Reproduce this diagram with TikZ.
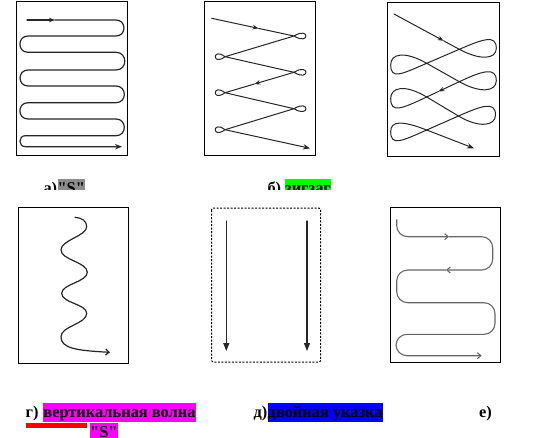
\documentclass[tikz,border=0pt]{standalone}
\usepackage{fontspec}
\setmainfont{Liberation Serif}[Ligatures=TeXOff]
\usetikzlibrary{arrows.meta,calc}
\definecolor{hlgray}{RGB}{140,140,140}
\definecolor{hlgreen}{RGB}{0,255,0}
\definecolor{hlmag}{RGB}{255,0,255}
\definecolor{hlblue}{RGB}{0,0,255}
\definecolor{hlred}{RGB}{255,0,0}
\begin{document}
\begin{tikzpicture}[x=1pt,y=-1pt,
  frame/.style={draw=black,line width=1pt},
  fig/.style={draw=black!85,line width=1.2pt,line cap=round,line join=round},
  thinfig/.style={draw=black!85,line width=1pt,line cap=round,line join=round},
  efig/.style={draw=black!60,line width=1.1pt,rounded corners=11pt},
  captxt/.style={font=\bfseries\fontsize{16.4}{19}\selectfont,inner sep=0pt,text height=14.6pt,text depth=3.6pt,anchor=base west},
  hl/.style={captxt,fill=#1},
  tipS/.style={-{Stealth[length=6pt,width=4.5pt]}},
  tipE/.style={-{Stealth[length=7pt,width=5.5pt]}},
  tipB/.style={-{Straight Barb[length=3.5pt,width=6pt]}},
  tipT/.style={-{Triangle[length=8pt,width=6pt]}},
]
\clip (0,0) rectangle (548,437);

% frames
\draw[frame] (16,1.3) rectangle (127.3,155.3);
\draw[frame] (204.3,1.3) rectangle (315.7,155.3);
\draw[frame] (387.3,2.3) rectangle (499.3,156.3);
\draw[frame] (18.3,207.3) rectangle (128.3,363.3);
\draw[frame,dash pattern=on 2pt off 1.5pt,rounded corners=2pt] (211.5,208) rectangle (320.7,362);
\draw[frame] (390.7,207.3) rectangle (500,362.3);

% a) S
\coordinate (aS) at (27,20);
\coordinate (aM) at (55,20);
\coordinate (aE) at (122,146.7);
\draw[fig,tipS] (aS) -- (aM);
\draw[fig,tipE] (aM) -- (116,20) to[out=0,in=0,looseness=1.7] (116,36)
  -- (28,36) to[out=180,in=180,looseness=1.7] (28,52.3)
  -- (116,52.3) to[out=0,in=0,looseness=1.7] (116,70)
  -- (28,70) to[out=180,in=180,looseness=1.7] (28,86)
  -- (116,86) to[out=0,in=0,looseness=1.7] (116,102.7)
  -- (28,102.7) to[out=180,in=180,looseness=1.7] (28,119)
  -- (116,119) to[out=0,in=0,looseness=1.7] (116,135.7)
  -- (25.4,135.7) to[out=180,in=180,looseness=1.7] (25.4,146.7)
  -- (aE);

% b) zigzag
\coordinate (bS) at (211.7,18.3);
\coordinate (bR1) at (294,36);
\coordinate (bL1) at (225,56.7);
\coordinate (bR2) at (294,72.3);
\coordinate (bL2) at (225,92.7);
\coordinate (bR3) at (294,108.7);
\coordinate (bL3) at (225,129.7);
\coordinate (bE) at (310,148.3);
\coordinate (bM1) at ($(bS)!0.57!(bR1)$);
\coordinate (bM2) at ($(bR2)!0.575!(bL2)$);
\draw[thinfig,tipS] (bS) -- (bM1);
\draw[thinfig] (bM1) -- (bR1) -- (bL1) -- (bR2);
\draw[thinfig,tipS] (bR2) -- (bM2);
\draw[thinfig] (bM2) -- (bL2) -- (bR3) -- (bL3);
\draw[thinfig,tipE] (bL3) -- (bE);
\foreach \p in {bR1,bR2,bR3}
  \draw[thinfig] (\p) .. controls ($(\p)+(16,10)$) and ($(\p)+(16,-10)$) .. (\p);
\foreach \p in {bL1,bL2,bL3}
  \draw[thinfig] (\p) .. controls ($(\p)+(-13,10)$) and ($(\p)+(-13,-10)$) .. (\p);

% c) figure eights
\coordinate (cS) at (394,14);
\coordinate (cR1) at (459.3,49.3);
\coordinate (cL1) at (426.7,63.3);
\coordinate (cR2) at (459.3,81.7);
\coordinate (cL2) at (426.7,97);
\coordinate (cR3) at (458.5,116);
\coordinate (cL3) at (426.7,130);
\coordinate (cE) at (474,148.3);
\coordinate (cM1) at ($(cS)!0.76!(cR1)$);
\coordinate (cM2) at ($(cR2)!0.64!(cL2)$);
\draw[thinfig,tipS] (cS) -- (cM1);
\draw[thinfig] (cM1) -- (cR1) -- (cL1) -- (cR2);
\draw[thinfig,tipS] (cR2) -- (cM2);
\draw[thinfig] (cM2) -- (cL2) -- (cR3) -- (cL3);
\draw[thinfig,tipE] (cL3) -- (cE);
\draw[thinfig] (cR1) .. controls (480.4,60.7) and (496.3,59.3) .. (496.3,48.3)
  .. controls (496.3,34.3) and (483.2,39.0) .. (cR1);
\draw[thinfig] (cL1) .. controls (401,74.4) and (390.7,79.8) .. (390.7,64.8)
  .. controls (390.7,53.8) and (404.1,50.5) .. (cL1);
\draw[thinfig] (cR2) .. controls (480.2,93.5) and (496.3,91.7) .. (496.3,80.7)
  .. controls (496.3,66.7) and (482.8,70.6) .. (cR2);
\draw[thinfig] (cL2) .. controls (401.4,108.9) and (390.7,113.5) .. (390.7,98.5)
  .. controls (390.7,87.5) and (404.4,83.7) .. (cL2);
\draw[thinfig] (cR3) .. controls (479.1,128.3) and (495.5,126) .. (495.5,115)
  .. controls (495.5,101) and (482.3,105.5) .. (cR3);
\draw[thinfig] (cL3) .. controls (401.1,141.3) and (390.7,146.5) .. (390.7,131.5)
  .. controls (390.7,120.5) and (402.4,120.6) .. (cL3);

% g) vertical wave
\coordinate (gS) at (75,217.3);
\coordinate (gE) at (110,352.3);
\draw[fig,tipB] (gS) .. controls (82,217.8) and (86.7,221) .. (86.7,226.7)
  .. controls (86.7,236) and (61,240) .. (61,250)
  .. controls (61,260) and (87.3,262) .. (87.3,272.3)
  .. controls (87.3,282) and (61.7,284) .. (61.7,293.3)
  .. controls (61.7,303) and (86.7,304) .. (86.7,313.3)
  .. controls (86.7,324) and (61,326) .. (61,336.7)
  .. controls (61,348) and (75,350.5) .. (gE);

% d) double pointer
\coordinate (dL1) at (226.3,221);
\coordinate (dL2) at (226.3,351);
\coordinate (dR1) at (307,221);
\coordinate (dR2) at (307,351);
\draw[fig,tipT] (dL1) -- (dL2);
\draw[fig,tipT] (dR1) -- (dR2);

% e) horizontal S
\coordinate (eS) at (396.7,219.3);
\coordinate (eM1) at (449,236.7);
\coordinate (eM2) at (446,270);
\coordinate (eE) at (481.7,355.7);
\draw[efig,tipB] (eS) -- (396.7,236.7) -- (eM1);
\draw[efig,tipB] (eM1) -- (492.7,236.7) -- (492.7,270) -- (eM2);
\draw[efig,tipB] (eM2) -- (396.7,270) -- (396.7,302.7) -- (495,302.7)
  -- (495,334.3) -- (396,334.3) -- (396,355.7) -- (eE);

% captions, first row (clipped, as in the reference)
\begin{scope}
\clip (0,170) rectangle (548,189.2);
\node[captxt] (capa) at (43.3,193.5) {а)};
\node[hl=hlgray] (capaS) at (capa.base east) {"S"};
\node[captxt] (capb) at (267.3,193.5) {б)};
\node[hl=hlgreen] (capbt) at (285,193.5) {зигзаг};
\end{scope}

% captions, second row
\node[captxt] (capg) at (25.5,417.9) {г)};
\node[hl=hlmag] (capgt) at (43.2,417.9) {вертикальная волна};
\node[captxt,anchor=base east] (capd) at (267.5,417.9) {д)};
\node[hl=hlblue] (capdt) at (267.5,417.9) {двойная указка};
\node[captxt] (cape) at (479,417.9) {е)};

% third row fragment
\fill[hlred] (26,422.7) rectangle (86.7,428.3);
\node[hl=hlmag] (capS2) at (90,437.1) {"S"};
\end{tikzpicture}
\end{document}
